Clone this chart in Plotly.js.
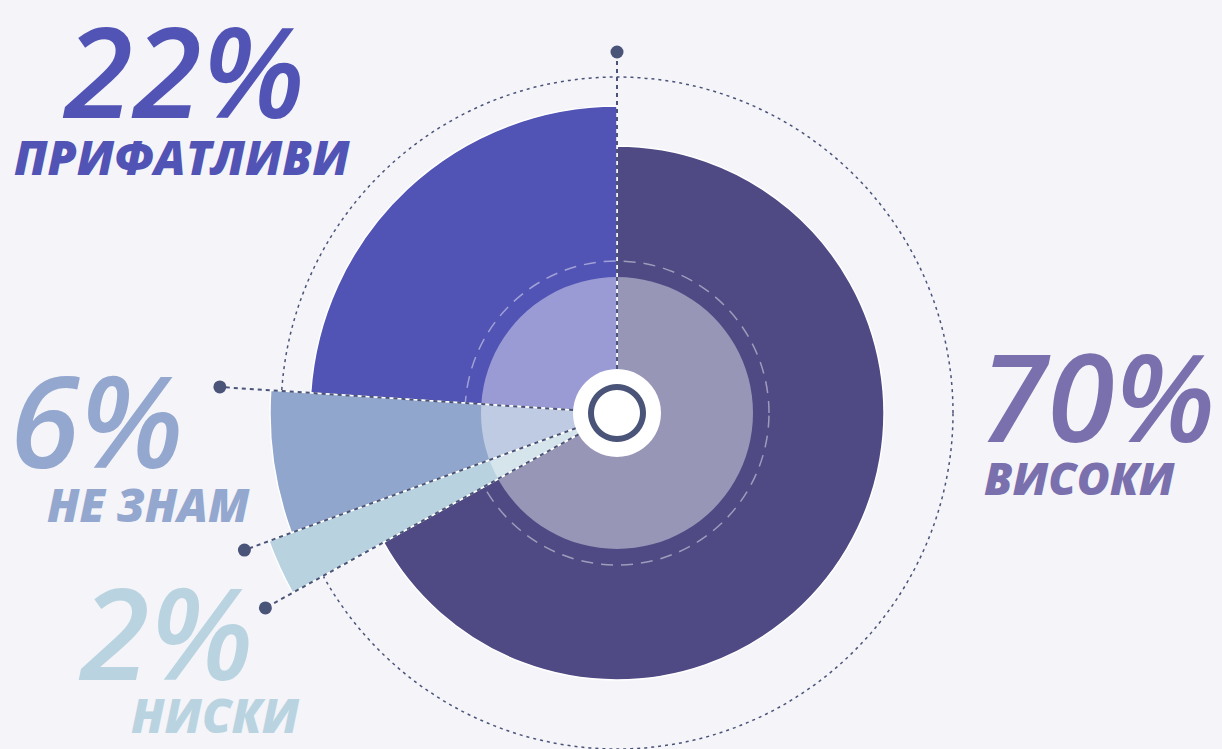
<!DOCTYPE html>
<html><head><meta charset="utf-8">
<script src="https://cdn.plot.ly/plotly-3.0.1.min.js"></script>
<style>
html,body{margin:0;padding:0;background:#f4f4f9;overflow:hidden;width:1222px;height:749px}
#chart{position:absolute;left:0;top:0;width:1222px;height:830px}
</style>
</head><body><div id="chart"></div>
<script>
// ---- data ----
const categories = ['ВИСОКИ', 'НИСКИ', 'НЕ ЗНАМ', 'ПРИФАТЛИВИ'];
const percents = [70, 2, 6, 22];
// slice extents as drawn (degrees clockwise from 12 o'clock)
const sliceStart = [0, 241, 249.8, 273.75];
const sliceSpan = [241, 8.8, 23.95, 86.25];
// radial length of each slice as drawn
const sliceLength = [267, 371, 347, 307];
// leader lines: angle and end radius
const leaderAngle = [0, 241, 249.8, 273.75];
const leaderLength = [361, 402, 397, 398];

// ---- style ----
const W = 1222, H = 830, CX = 617, CY = 413, R = 410;
const sliceColors = ['#4f4a84', '#b8d3df', '#91a6cd', '#5254b5'];
const textColors = ['#7a70ae', '#b9d4e0', '#93a7cf', '#5254b5'];
const lineColor = '#4a5478';
const coreRadius = 136, dashRadius = 152, outerRadius = 336;
const hubRadius = 44, ringInner = 23, ringWidth = 6;
const FONT = 'Open Sans, Noto Sans, sans-serif';
// label placement (page px): [numX, numCenterY, numSize, nameX, nameCenterY, nameSize]
const labelPos = [
  [978, 395, 122, 982, 477.5, 45],
  [76, 631, 126, 129, 714.5, 47],
  [8, 419, 126, 45, 504, 45.5],
  [60, 69.5, 125, 12, 157, 47]
];

const domain = {x: [(CX - R) / W, (CX + R) / W], y: [(H - CY - R) / H, (H - CY + R) / H]};
function polarCfg(gridVals, gridColor, gridDash, gridWidth) {
  return {
    domain: domain, bgcolor: 'rgba(0,0,0,0)',
    radialaxis: {range: [0, R], showline: false, showticklabels: false, ticks: '',
      tickvals: gridVals, showgrid: true, gridcolor: gridColor, griddash: gridDash, gridwidth: gridWidth},
    angularaxis: {rotation: 90, direction: 'clockwise', showgrid: false, showline: false,
      showticklabels: false, ticks: ''}
  };
}

function sliceTrace(idxs, subplot) {
  return {
    type: 'barpolar', subplot: subplot,
    r: idxs.map(i => sliceLength[i]),
    theta: idxs.map(i => sliceStart[i] + sliceSpan[i] / 2),
    width: idxs.map(i => sliceSpan[i]),
    marker: {color: idxs.map(i => sliceColors[i]), line: {color: '#ffffff', width: 1.5}},
    text: idxs.map(i => categories[i] + ': ' + percents[i] + '%'),
    hoverinfo: 'text'
  };
}
function disk(subplot, base, len, color) {
  return {type: 'barpolar', subplot: subplot, r: [len], base: [base], theta: [180], width: [359.99],
    marker: {color: color, line: {width: 0}}, hoverinfo: 'skip'};
}

const leaderR = [], leaderT = [];
leaderAngle.forEach((a, i) => { leaderR.push(hubRadius, leaderLength[i], null); leaderT.push(a, a, null); });

const data = [
  sliceTrace([0, 3], 'polar'),
  sliceTrace([1, 2], 'polar2'),
  disk('polar2', 0, coreRadius, 'rgba(255,255,255,0.42)'),
  disk('polar2', 0, hubRadius, '#ffffff'),
  disk('polar2', ringInner, ringWidth, lineColor),
  {type: 'scatterpolar', subplot: 'polar2', mode: 'lines', r: leaderR, theta: leaderT,
    line: {color: lineColor, width: 2, dash: '4px,4px'}, hoverinfo: 'skip', connectgaps: false},
  {type: 'scatterpolar', subplot: 'polar2', mode: 'markers', r: leaderLength, theta: leaderAngle,
    marker: {color: lineColor, size: 13}, hoverinfo: 'skip'}
];

const annotations = [];
categories.forEach((c, i) => {
  const p = labelPos[i];
  annotations.push({xref: 'paper', yref: 'paper', x: p[0] / W, y: 1 - p[1] / H, xanchor: 'left', yanchor: 'middle',
    text: percents[i] + '%', showarrow: false,
    font: {family: FONT, size: p[2], color: textColors[i], weight: 600, style: 'italic'}});
  annotations.push({xref: 'paper', yref: 'paper', x: p[3] / W, y: 1 - p[4] / H, xanchor: 'left', yanchor: 'middle',
    text: c, showarrow: false,
    font: {family: FONT, size: p[5], color: textColors[i], weight: 800, style: 'italic'}});
});

const layout = {
  width: W, height: H, margin: {l: 0, r: 0, t: 0, b: 0}, showlegend: false,
  paper_bgcolor: '#f4f4f9',
  polar: polarCfg([outerRadius], lineColor, '3px,4px', 1.5),
  polar2: polarCfg([dashRadius], 'rgba(255,255,255,0.45)', '12px,8px', 1.5),
  annotations: annotations
};
Plotly.newPlot('chart', data, layout, {staticPlot: true});
</script></body></html>
